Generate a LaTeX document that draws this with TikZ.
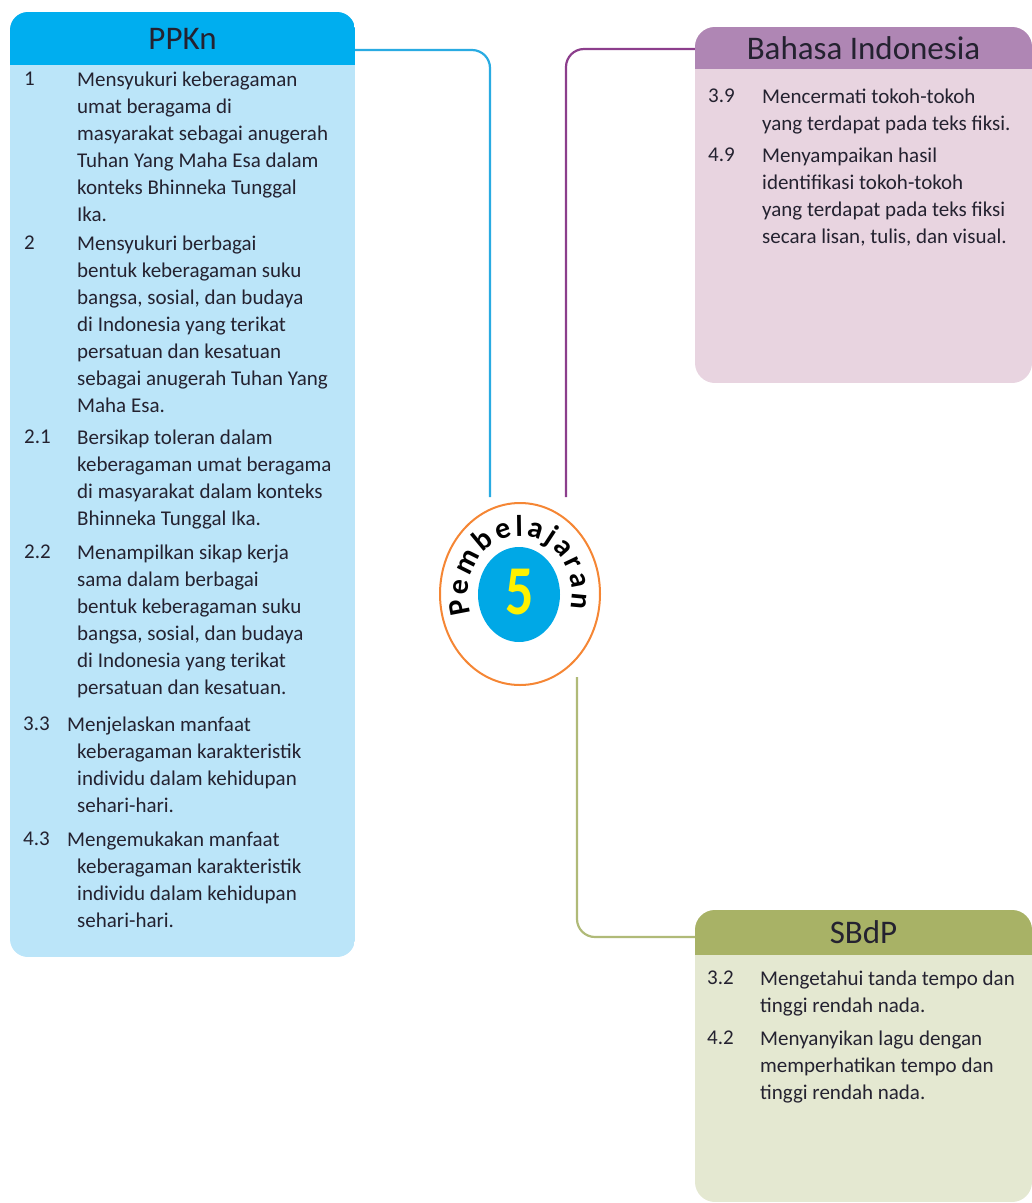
\documentclass[tikz,border=0pt]{standalone}
\usepackage{fontspec}
\setmainfont{Carlito}
\usepackage{xcolor}
\usepackage{tikz}
\usetikzlibrary{shapes.geometric, positioning, calc, decorations.text}
\definecolor{inkdark}{RGB}{36, 34, 48}
\definecolor{ppknhead}{RGB}{0, 174, 239}
\definecolor{ppknbody}{RGB}{187, 229, 249}
\definecolor{ppknline}{RGB}{41, 171, 226}
\definecolor{bahasahead}{RGB}{175, 134, 180}
\definecolor{bahasabody}{RGB}{232, 212, 224}
\definecolor{bahasaline}{RGB}{140, 62, 140}
\definecolor{sbdphead}{RGB}{168, 178, 102}
\definecolor{sbdpbody}{RGB}{228, 232, 209}
\definecolor{sbdpline}{RGB}{176, 186, 120}
\definecolor{ringorange}{RGB}{245, 134, 52}
\definecolor{discblue}{RGB}{0, 168, 230}
\definecolor{numyellow}{RGB}{255, 241, 0}

\begin{document}
\begin{tikzpicture}[x=1pt, y=1pt,
    header/.style={inner sep=0, text=inkdark, font=\fontsize{33}{33}\selectfont},
    itemtext/.style={anchor=north west, align=left, inner sep=0, text=inkdark, font=\fontsize{21}{27}\selectfont},
    link/.style={line width=2.2, rounded corners=18}]
    \useasboundingbox (0,0) rectangle (1032,-1203);

    % PPKn panel
    \begin{scope}
        \clip[rounded corners=18] (10,-12) rectangle (355,-957);
        \fill[ppknbody] (10,-12) rectangle (355,-957);
        \node[header, fill=ppknhead, minimum width=345, minimum height=53] (ppkn) at (182.5,-38.5) {PPKn};
    \end{scope}
    \node[itemtext] (ppknA) at (24,-72) {1};
    \node[itemtext] (ppknAtext) at (77,-72) {Mensyukuri keberagaman\\ umat beragama di\\ masyarakat sebagai anugerah\\ Tuhan Yang Maha Esa dalam\\ konteks Bhinneka Tunggal\\ Ika.};
    \node[itemtext] (ppknB) at (24,-236) {2};
    \node[itemtext] (ppknBtext) at (77,-236) {Mensyukuri berbagai\\ bentuk keberagaman suku\\ bangsa, sosial, dan budaya\\ di Indonesia yang terikat\\ persatuan dan kesatuan\\ sebagai anugerah Tuhan Yang\\ Maha Esa.};
    \node[itemtext] (ppknC) at (24,-430) {2.1};
    \node[itemtext] (ppknCtext) at (77,-430) {Bersikap toleran dalam\\ keberagaman umat beragama\\ di masyarakat dalam konteks\\ Bhinneka Tunggal Ika.};
    \node[itemtext] (ppknD) at (24,-545) {2.2};
    \node[itemtext] (ppknDtext) at (77,-545) {Menampilkan sikap kerja\\ sama dalam berbagai\\ bentuk keberagaman suku\\ bangsa, sosial, dan budaya\\ di Indonesia yang terikat\\ persatuan dan kesatuan.};
    \node[itemtext] (ppknE) at (23,-717) {3.3};
    \node[itemtext] (ppknEtext) at (67,-717) {Menjelaskan manfaat\\ \hspace*{10pt}keberagaman karakteristik\\ \hspace*{10pt}individu dalam kehidupan\\ \hspace*{10pt}sehari-hari.};
    \node[itemtext] (ppknF) at (23,-832) {4.3};
    \node[itemtext] (ppknFtext) at (67,-832) {Mengemukakan manfaat\\ \hspace*{10pt}keberagaman karakteristik\\ \hspace*{10pt}individu dalam kehidupan\\ \hspace*{10pt}sehari-hari.};

    % Bahasa Indonesia panel
    \begin{scope}
        \clip[rounded corners=20] (695,-27) rectangle (1032,-383);
        \fill[bahasabody] (695,-27) rectangle (1032,-383);
        \node[header, fill=bahasahead, minimum width=337, minimum height=42] (bahasa) at (863.5,-48) {Bahasa Indonesia};
    \end{scope}
    \node[itemtext] (bahasaA) at (708,-89) {3.9};
    \node[itemtext] (bahasaAtext) at (762,-89) {Mencermati tokoh-tokoh\\ yang terdapat pada teks fiksi.};
    \node[itemtext] (bahasaB) at (708,-148) {4.9};
    \node[itemtext] (bahasaBtext) at (762,-148) {Menyampaikan hasil\\ identifikasi tokoh-tokoh\\ yang terdapat pada teks fiksi\\ secara lisan, tulis, dan visual.};

    % SBdP panel
    \begin{scope}
        \clip[rounded corners=20] (695,-910) rectangle (1032,-1202);
        \fill[sbdpbody] (695,-910) rectangle (1032,-1202);
        \node[header, fill=sbdphead, minimum width=337, minimum height=45] (sbdp) at (863.5,-932.5) {SBdP};
    \end{scope}
    \node[itemtext] (sbdpA) at (707,-971) {3.2};
    \node[itemtext] (sbdpAtext) at (760,-971) {Mengetahui tanda tempo dan\\ tinggi rendah nada.};
    \node[itemtext] (sbdpB) at (707,-1031) {4.2};
    \node[itemtext] (sbdpBtext) at (760,-1031) {Menyanyikan lagu dengan\\ memperhatikan tempo dan\\ tinggi rendah nada.};

    % Centre badge
    \node[ellipse, draw=ringorange, line width=2, minimum width=160, minimum height=182, inner sep=0] (core) at (520,-594) {};
    \node[ellipse, fill=discblue, minimum width=82, minimum height=95, inner sep=0] (disc) at (519,-594.5) {};
    \node[text=numyellow, font=\bfseries\fontsize{70}{70}\selectfont, xscale=0.8, inner sep=0] (num) at (519.5,-592) {5};
    \path[decorate, decoration={text along path, text align={fit to path},
        text={|\bfseries\fontsize{30}{30}\selectfont\color{black}|Pembelajaran}}]
        (core.center) ++(200:52 and 58) arc[start angle=200, end angle=-14, x radius=52, y radius=58];

    % Connectors
    \coordinate (ppknend) at (490,-497);
    \coordinate (bahasaend) at (566,-497);
    \coordinate (sbdpstart) at (577,-677);
    \draw[link, ppknline] ([yshift=-11.5]ppkn.east) -| (ppknend);
    \draw[link, bahasaline] ([yshift=-1]bahasa.west) -| (bahasaend);
    \draw[link, sbdpline] (sbdpstart) |- ([yshift=-4.5]sbdp.west);
\end{tikzpicture}
\end{document}
